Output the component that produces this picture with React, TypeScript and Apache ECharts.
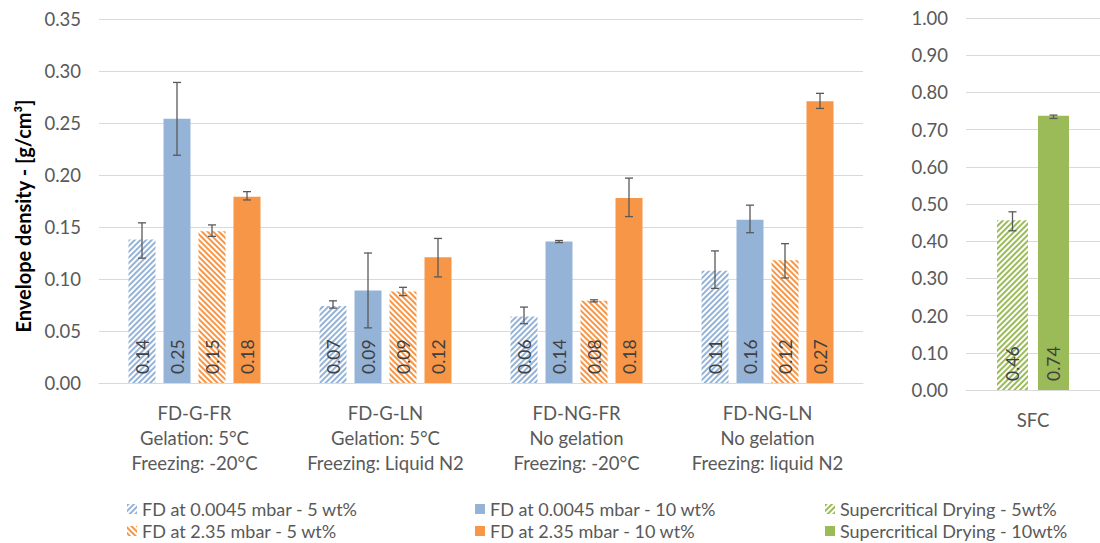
import React, { useEffect, useRef } from "react";
import * as echarts from "echarts";

const categories = [
  "FD-G-FR\nGelation: 5°C\nFreezing: -20°C",
  "FD-G-LN\nGelation: 5°C\nFreezing: Liquid N2",
  "FD-NG-FR\nNo gelation\nFreezing: -20°C",
  "FD-NG-LN\nNo gelation\nFreezing: liquid N2",
];
const sfcCategories = ["SFC"];

const seriesNames = [
  "FD at 0.0045 mbar - 5 wt%",
  "FD at 0.0045 mbar - 10 wt%",
  "FD at 2.35 mbar - 5 wt%",
  "FD at 2.35 mbar - 10 wt%",
];
const sfcNames = ["Supercritical Drying - 5wt%", "Supercritical Drying - 10wt%"];

// values per series (across the 4 categories)
const fd0045_5 = [0.138, 0.074, 0.064, 0.108];
const fd0045_10 = [0.254, 0.089, 0.136, 0.157];
const fd235_5 = [0.146, 0.088, 0.079, 0.118];
const fd235_10 = [0.179, 0.121, 0.178, 0.271];
// error ranges [low, high]
const err0045_5 = [[0.12, 0.154], [0.072, 0.079], [0.057, 0.073], [0.091, 0.127]];
const err0045_10 = [[0.219, 0.289], [0.053, 0.125], [0.135, 0.137], [0.1445, 0.171]];
const err235_5 = [[0.141, 0.152], [0.084, 0.092], [0.078, 0.08], [0.101, 0.134]];
const err235_10 = [[0.176, 0.184], [0.102, 0.139], [0.16, 0.197], [0.264, 0.2785]];

const scd5 = [0.456];
const scd10 = [0.737];
const errScd5 = [[0.428, 0.479]];
const errScd10 = [[0.73, 0.739]];

const leftTicks = { min: 0, max: 0.35, interval: 0.05 };
const rightTicks = { min: 0, max: 1, interval: 0.1 };

const BLUE = "#95B3D7";
const ORANGE = "#F79646";
const GREEN = "#9BBB59";
const TEXT = "#595959";
const FONT = "Lato";

function hatch(color: string, dir: number) {
  return {
    symbol: "rect",
    symbolSize: 1,
    color,
    dashArrayX: [1, 0],
    dashArrayY: [2, 2],
    rotation: (dir * Math.PI) / 4,
  };
}

export default function App() {
  const ref = useRef<HTMLDivElement>(null);
  useEffect(() => {
    if (!ref.current) return;
    const chart = echarts.init(ref.current, undefined, { renderer: "svg" });

    const LEFT_BW = 27;
    const LEFT_PITCH = 35;
    const RIGHT_BW = 31;
    const RIGHT_PITCH = 41;

    const label = {
      show: true,
      position: "insideBottom",
      rotate: 90,
      align: "left",
      verticalAlign: "middle",
      distance: 9,
      color: "#404040",
      fontFamily: FONT,
      fontSize: 17.5,
      formatter: (p: any) => Number(p.value).toFixed(2),
    };

    const leftErr: any[] = [];
    [err0045_5, err0045_10, err235_5, err235_10].forEach((arr, s) =>
      arr.forEach((e, c) => leftErr.push([c, s, e[0], e[1]]))
    );
    const rightErr: any[] = [];
    [errScd5, errScd10].forEach((arr, s) =>
      arr.forEach((e, c) => rightErr.push([c, s, e[0], e[1]]))
    );

    const errRender = (n: number, pitch: number) => (params: any, api: any) => {
      const c = api.value(0);
      const s = api.value(1);
      const lo = api.coord([c, api.value(2)]);
      const hi = api.coord([c, api.value(3)]);
      const x = lo[0] + (s - (n - 1) / 2) * pitch;
      const cap = 4;
      const st = { stroke: "#595959", lineWidth: 1.3 };
      return {
        type: "group",
        children: [
          { type: "line", shape: { x1: x, y1: lo[1], x2: x, y2: hi[1] }, style: st },
          { type: "line", shape: { x1: x - cap, y1: lo[1], x2: x + cap, y2: lo[1] }, style: st },
          { type: "line", shape: { x1: x - cap, y1: hi[1], x2: x + cap, y2: hi[1] }, style: st },
        ],
      };
    };

    const legendItem = (name: string, left: number, top: number) => ({
      orient: "horizontal",
      icon: "rect",
      itemWidth: 10,
      itemHeight: 10,
      left,
      top,
      data: [name],
      textStyle: { color: TEXT, fontFamily: FONT, fontSize: 18, lineHeight: 18 },
    });

    const yAxisCommon = {
      type: "value",
      axisLine: { show: false },
      axisTick: { show: false },
      splitLine: { lineStyle: { color: "#D9D9D9", width: 1 } },
      axisLabel: {
        color: TEXT,
        fontFamily: FONT,
        fontSize: 18.5,
        margin: 18,
        formatter: (v: number) => v.toFixed(2),
      },
    };
    const xAxisCommon = {
      type: "category",
      axisTick: { show: false },
      axisLine: { lineStyle: { color: "#D9D9D9" } },
      axisLabel: {
        interval: 0,
        color: TEXT,
        fontFamily: FONT,
        fontSize: 18.5,
        lineHeight: 25,
        margin: 17,
      },
    };

    chart.setOption({
      animation: false,
      backgroundColor: "#ffffff",
      grid: [
        { left: 99, width: 764, top: 19, height: 364 },
        { left: 966, width: 142, top: 18, height: 372 },
      ],
      xAxis: [
        { ...xAxisCommon, gridIndex: 0, data: categories },
        { ...xAxisCommon, gridIndex: 1, data: sfcCategories },
      ],
      yAxis: [
        { ...yAxisCommon, gridIndex: 0, ...leftTicks },
        { ...yAxisCommon, gridIndex: 1, ...rightTicks },
      ],
      legend: [
        legendItem(seriesNames[0], 122, 495),
        legendItem(seriesNames[2], 122, 517),
        legendItem(seriesNames[1], 470, 495),
        legendItem(seriesNames[3], 470, 517),
        legendItem(sfcNames[0], 820, 495),
        legendItem(sfcNames[1], 820, 517),
      ],
      graphic: [
        {
          type: "text",
          x: 23,
          y: 216,
          rotation: Math.PI / 2,
          style: {
            text: "Envelope density - [g/cm³]",
            font: `bold 20px ${FONT}`,
            fill: "#000000",
            align: "center",
            verticalAlign: "middle",
          },
        },
      ],
      series: [
        {
          name: seriesNames[0],
          type: "bar",
          xAxisIndex: 0,
          yAxisIndex: 0,
          barWidth: LEFT_BW,
          barGap: `${((LEFT_PITCH - LEFT_BW) / LEFT_BW) * 100}%`,
          data: fd0045_5,
          itemStyle: { color: "#ffffff", decal: hatch(BLUE, -1) },
          label,
        },
        {
          name: seriesNames[1],
          type: "bar",
          xAxisIndex: 0,
          yAxisIndex: 0,
          barWidth: LEFT_BW,
          data: fd0045_10,
          itemStyle: { color: BLUE },
          label,
        },
        {
          name: seriesNames[2],
          type: "bar",
          xAxisIndex: 0,
          yAxisIndex: 0,
          barWidth: LEFT_BW,
          data: fd235_5,
          itemStyle: { color: "#ffffff", decal: hatch(ORANGE, 1) },
          label,
        },
        {
          name: seriesNames[3],
          type: "bar",
          xAxisIndex: 0,
          yAxisIndex: 0,
          barWidth: LEFT_BW,
          data: fd235_10,
          itemStyle: { color: ORANGE },
          label,
        },
        {
          name: sfcNames[0],
          type: "bar",
          xAxisIndex: 1,
          yAxisIndex: 1,
          barWidth: RIGHT_BW,
          barGap: `${((RIGHT_PITCH - RIGHT_BW) / RIGHT_BW) * 100}%`,
          data: scd5,
          itemStyle: { color: "#ffffff", decal: hatch(GREEN, -1) },
          label,
        },
        {
          name: sfcNames[1],
          type: "bar",
          xAxisIndex: 1,
          yAxisIndex: 1,
          barWidth: RIGHT_BW,
          data: scd10,
          itemStyle: { color: GREEN },
          label,
        },
        {
          type: "custom",
          xAxisIndex: 0,
          yAxisIndex: 0,
          data: leftErr,
          renderItem: errRender(4, LEFT_PITCH),
          z: 10,
          silent: true,
        },
        {
          type: "custom",
          xAxisIndex: 1,
          yAxisIndex: 1,
          data: rightErr,
          renderItem: errRender(2, RIGHT_PITCH),
          z: 10,
          silent: true,
        },
      ],
    });
    return () => chart.dispose();
  }, []);
  return (
    <div
      ref={ref}
      style={{ position: "fixed", left: 0, top: 0, width: 1100, height: 543, background: "#fff" }}
    />
  );
}
